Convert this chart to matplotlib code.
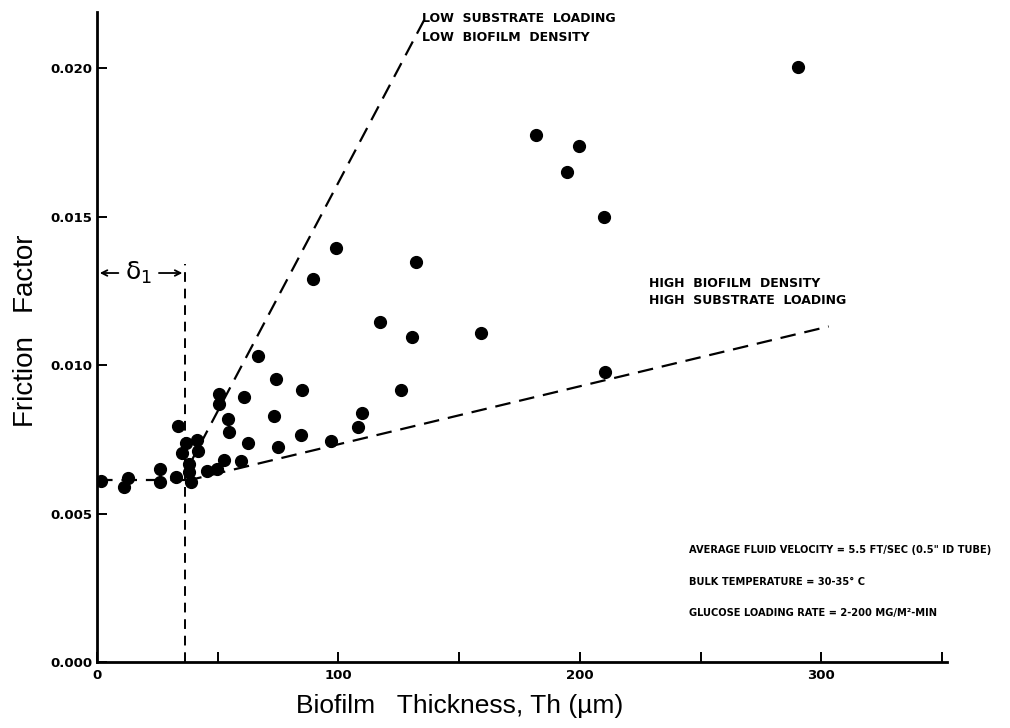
import matplotlib
matplotlib.use("Agg")
import matplotlib.pyplot as plt

# ---- data ----
thickness = [1.5, 11.2, 13.0, 26.1, 26.1, 32.6, 33.7, 35.4, 36.8, 38.2, 38.2, 38.9,
             41.6, 42.0, 45.4, 49.9, 50.6, 50.6, 52.7, 54.1, 54.8, 59.6, 60.7, 62.5,
             66.8, 73.4, 74.0, 74.8, 84.5, 85.1, 89.6, 97.0, 99.0, 108.2, 109.8,
             117.0, 125.7, 130.4, 132.2, 159.0, 182.0, 194.6, 199.6, 209.9, 210.5, 290.1]
friction = [0.00610, 0.00590, 0.00619, 0.00649, 0.00607, 0.00622, 0.00795, 0.00703,
            0.00736, 0.00667, 0.00640, 0.00607, 0.00747, 0.00711, 0.00644, 0.00649,
            0.00902, 0.00868, 0.00680, 0.00819, 0.00774, 0.00677, 0.00892, 0.00736,
            0.01031, 0.00829, 0.00952, 0.00725, 0.00764, 0.00915, 0.01290, 0.00745,
            0.01395, 0.00790, 0.00839, 0.01146, 0.00916, 0.01095, 0.01348, 0.01107,
            0.01774, 0.01650, 0.01738, 0.01499, 0.00977, 0.02003]

baseline_x = [0, 38]
baseline_y = [0.00612, 0.00612]
upper_x = [38, 136]
upper_y = [0.0066, 0.0217]
lower_x = [37, 303]
lower_y = [0.0061, 0.0113]
delta1 = 36.5
delta_y = 0.0131

xticks = [0, 50, 100, 150, 200, 250, 300, 350]
xticklabels = ["0", "", "100", "", "200", "", "300", ""]
yticks = [0.000, 0.005, 0.010, 0.015, 0.020]
yticklabels = ["0.000", "0.005", "0.010", "0.015", "0.020"]

# ---- figure ----
fig = plt.figure(figsize=(10.10, 7.28), dpi=100)
ax = fig.add_axes([97/1010, 1 - 662/728, 850/1010, 650/728])
ax.set_xlim(0, 352)
ax.set_ylim(0, 0.02189)

dash = (0, (7, 4))
ax.plot(baseline_x, baseline_y, color="black", lw=1.6, linestyle=dash)
ax.plot(upper_x, upper_y, color="black", lw=1.6, linestyle=dash)
ax.plot(lower_x, lower_y, color="black", lw=1.6, linestyle=dash)
ax.plot([delta1, delta1], [0, delta_y + 0.0003], color="black", lw=1.4,
        linestyle=(0, (5, 3.5)))

ax.plot(thickness, friction, linestyle="none", marker="o", ms=8.5,
        color="black", mec="black")

# delta_1 annotation
ax.annotate("", xy=(0, delta_y), xytext=(10, delta_y),
            arrowprops=dict(arrowstyle="->", color="black", lw=1.3))
ax.annotate("", xy=(delta1, delta_y), xytext=(24.5, delta_y),
            arrowprops=dict(arrowstyle="->", color="black", lw=1.3))
ax.text(17.3, delta_y, "δ$_1$", fontsize=18, ha="center", va="center",
        family="DejaVu Sans")

# spines / ticks
for s in ["top", "right"]:
    ax.spines[s].set_visible(False)
for s in ["left", "bottom"]:
    ax.spines[s].set_linewidth(2.0)
ax.set_xticks(xticks)
ax.set_xticklabels(xticklabels)
ax.set_yticks(yticks)
ax.set_yticklabels(yticklabels)
ax.tick_params(direction="in", length=7, width=1.4, labelsize=9.5)
ax.tick_params(axis="x", pad=5)
for lab in ax.get_xticklabels() + ax.get_yticklabels():
    lab.set_fontweight("bold")
    lab.set_family("DejaVu Sans")

ax.set_ylabel("Friction   Factor", fontsize=20, family="Liberation Sans")
ax.yaxis.set_label_coords(-0.068, 0.51)
ax.set_xlabel("Biofilm   Thickness, Th (µm)", fontsize=19, family="Liberation Sans")
ax.xaxis.set_label_coords(0.427, -0.05)

anno_kw = dict(fontsize=9, fontweight="bold", family="DejaVu Sans",
               ha="left", va="center", color="black")
ax.text(134.5, 0.02168, "LOW  SUBSTRATE  LOADING", **anno_kw)
ax.text(134.5, 0.02102, "LOW  BIOFILM  DENSITY", **anno_kw)
ax.text(228.5, 0.01276, "HIGH  BIOFILM  DENSITY", **anno_kw)
ax.text(228.5, 0.01219, "HIGH  SUBSTRATE  LOADING", **anno_kw)

info_kw = dict(fontsize=7.1, fontweight="bold", family="DejaVu Sans",
               ha="left", va="center", color="black")
ax.text(245, 0.00378, "AVERAGE FLUID VELOCITY = 5.5 FT/SEC (0.5\" ID TUBE)", **info_kw)
ax.text(245, 0.00270, "BULK TEMPERATURE = 30-35° C", **info_kw)
ax.text(245, 0.00165, "GLUCOSE LOADING RATE = 2-200 MG/M²-MIN", **info_kw)

fig.savefig("out.png", dpi=100, facecolor="white")
